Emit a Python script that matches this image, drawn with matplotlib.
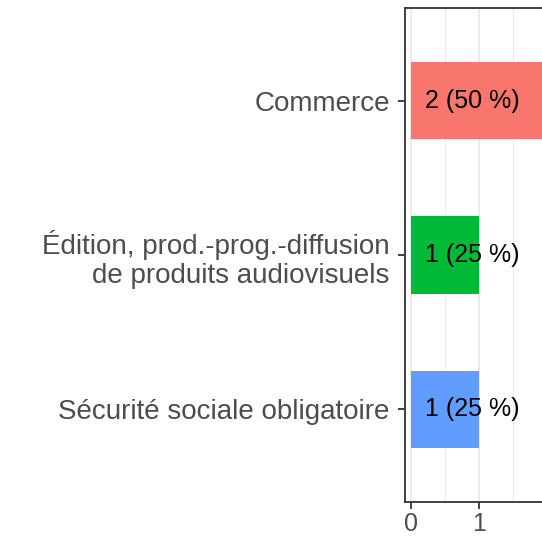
import matplotlib.pyplot as plt
import numpy as np

plt.rcParams['font.family'] = ['Liberation Sans', 'DejaVu Sans']

categories = ['Commerce',
              'Édition, prod.-prog.-diffusion\nde produits audiovisuels',
              'Sécurité sociale obligatoire']
counts = [2, 1, 1]
labels = ['2 (50 %)', '1 (25 %)', '1 (25 %)']
colors = ['#F8766D', '#00BA38', '#619CFF']

fig = plt.figure(figsize=(5.42, 5.36), dpi=100)
# panel runs past the right edge, like the cropped original
ax = fig.add_axes([405 / 542, 34 / 536, 149 / 542, 494 / 536])

y_pos = np.arange(len(categories))[::-1]
ax.barh(y_pos, counts, height=0.5, color=colors, zorder=2)
for y, lab in zip(y_pos, labels):
    ax.text(0.2, y, lab, ha='left', va='center', fontsize=18, color='black', zorder=3)

ax.set_xlim(-0.09, 2.1)
ax.set_ylim(-0.6, 2.6)
ax.set_yticks(y_pos)
ax.set_yticklabels(categories, fontsize=20, color='#4D4D4D', linespacing=1.15)
ax.set_xticks([0, 1, 2])
ax.set_xticks([0.5, 1.5], minor=True)
ax.tick_params(axis='x', labelsize=18, labelcolor='#4D4D4D', color='#333333',
               length=5, width=1.3, pad=2)
ax.tick_params(axis='y', color='#333333', length=5, width=1.3, pad=6)
ax.tick_params(which='minor', length=0)
ax.grid(axis='x', which='major', color='#EBEBEB', linewidth=1.3, zorder=0)
ax.grid(axis='x', which='minor', color='#EBEBEB', linewidth=0.7, zorder=0)
ax.set_axisbelow(True)
for s in ax.spines.values():
    s.set_color('#333333')
    s.set_linewidth(1.3)

fig.savefig('out.png', dpi=100)
